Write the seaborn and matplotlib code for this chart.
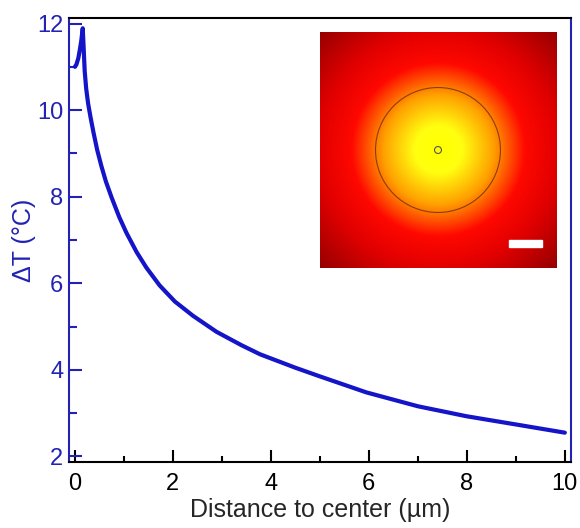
import numpy as np
import pandas as pd
import matplotlib.pyplot as plt
from matplotlib.colors import LinearSegmentedColormap
from matplotlib.patches import Circle, Rectangle
import seaborn as sns

sns.set_style('ticks')
plt.rcParams['font.family'] = ['Liberation Sans', 'DejaVu Sans']

# values
distance = [0.0, 0.03, 0.07, 0.1, 0.13, 0.16, 0.18, 0.2, 0.23, 0.27, 0.32,
            0.38, 0.455, 0.54, 0.633, 0.75, 0.905, 1.05, 1.26, 1.46, 1.73,
            2.04, 2.41, 2.89, 3.4, 3.78, 4.5, 5.0, 5.95, 7.0, 7.99, 9.0, 10.0]
delta_t = [11.0, 11.05, 11.2, 11.39, 11.6, 11.89, 11.4, 10.9, 10.5, 10.15, 9.83,
           9.48, 9.08, 8.71, 8.35, 7.98, 7.53, 7.17, 6.72, 6.36, 5.95,
           5.58, 5.25, 4.88, 4.57, 4.36, 4.05, 3.85, 3.48, 3.16, 2.93, 2.74, 2.55]

x_major = [0, 2, 4, 6, 8, 10]
y_major = [2, 4, 6, 8, 10, 12]

blue = '#1414c8'
axis_blue = '#2222b4'

df = pd.DataFrame({'distance': distance, 'dT': delta_t})

fig = plt.figure(figsize=(5.8, 5.28), dpi=100)
ax = fig.add_axes([0.119, 0.1256, 0.865, 0.8397])

sns.lineplot(data=df, x='distance', y='dT', ax=ax, color=blue, linewidth=3.0,
             sort=False, solid_capstyle='round', solid_joinstyle='round')

ax.set_xlim(-0.12, 10.12)
ax.set_ylim(1.88, 12.12)
ax.set_xticks(x_major)
ax.set_xticks([1, 3, 5, 7, 9], minor=True)
ax.set_yticks(y_major)
ax.set_yticks([3, 5, 7, 9, 11], minor=True)

ax.tick_params(axis='x', which='both', direction='in', colors='black',
               labelsize=17, width=1.5, pad=8, top=False)
ax.tick_params(axis='x', which='major', length=8.5)
ax.tick_params(axis='x', which='minor', length=4.5)
ax.tick_params(axis='y', which='both', direction='in', colors=axis_blue,
               labelsize=17, width=1.5, pad=4, right=False)
ax.tick_params(axis='y', which='major', length=9)
ax.tick_params(axis='y', which='minor', length=5.5)

for side in ['left', 'right', 'top', 'bottom']:
    ax.spines[side].set_visible(True)
    ax.spines[side].set_linewidth(1.5)
ax.spines['left'].set_color(axis_blue)
ax.spines['right'].set_color(axis_blue)
ax.spines['top'].set_color('black')
ax.spines['bottom'].set_color('black')

ax.set_xlabel('Distance to center (µm)', fontsize=18, labelpad=2)
ax.set_ylabel('ΔT (°C)', fontsize=18, color=axis_blue, labelpad=1)

# inset heat map
ins = fig.add_axes([0.550, 0.4924, 0.4103, 0.447])
half = 119
grid = np.linspace(-half, half, 300)
gx, gy = np.meshgrid(grid, grid)
radius = np.hypot(gx, gy)
heat = LinearSegmentedColormap.from_list(
    'heat', [(0.0, '#ffff00'), (0.14, '#ffff10'), (0.33, '#ffa000'),
             (0.52, '#ff0800'), (0.72, '#e00000'), (1.0, '#960000')])
ins.imshow(radius / 168.0, cmap=heat, vmin=0, vmax=1,
           extent=[-half, half, -half, half], origin='lower',
           interpolation='bilinear')
ins.add_patch(Circle((0, 0), 63, fill=False, ec='#6a3010', lw=0.8, alpha=0.8))
ins.add_patch(Circle((0, 0), 3.5, fill=False, ec='#555555', lw=0.8))
ins.add_patch(Rectangle((72, -98), 33, 7.5, color='white'))
ins.set_xlim(-half, half)
ins.set_ylim(-half, half)
ins.set_xticks([])
ins.set_yticks([])
for s in ins.spines.values():
    s.set_visible(False)

fig.savefig('out.png', dpi=100)
